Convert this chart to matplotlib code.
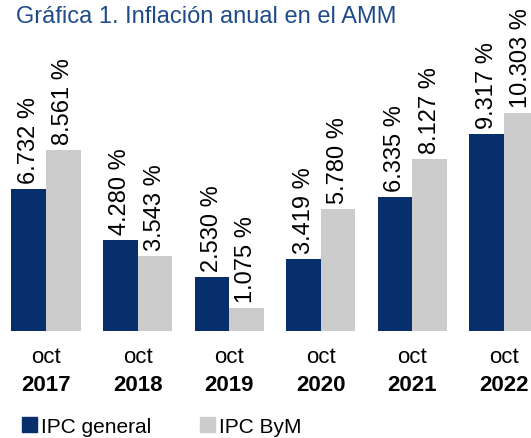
import numpy as np
import matplotlib.pyplot as plt
from matplotlib.patches import Patch

plt.rcParams['font.family'] = ['Liberation Sans', 'DejaVu Sans']

years = ['2017', '2018', '2019', '2020', '2021', '2022']
ipc_general = [6.732, 4.280, 2.530, 3.419, 6.335, 9.317]
ipc_bym = [8.561, 3.543, 1.075, 5.780, 8.127, 10.303]

navy = '#062f6b'
grey = '#cccccc'
title_blue = '#1f4b8a'

W, H = 531, 439
fig = plt.figure(figsize=(W / 100, H / 100), dpi=100)

# axes: baseline at 332 px from top, reaching the top edge
ax = fig.add_axes([0, 107 / H, 1, 332 / H])
x = np.arange(len(years))
bw = 0.377
ax.bar(x - bw / 2, ipc_general, width=bw, color=navy)
ax.bar(x + bw / 2, ipc_bym, width=bw, color=grey)

ax.set_xlim(-46 / 91.6, (W - 46) / 91.6)
ax.set_ylim(0, 332 / 21.15)
ax.axis('off')

for i in range(len(years)):
    for dx, v in ((-bw / 2, ipc_general[i]), (bw / 2, ipc_bym[i])):
        ax.annotate('{:.3f} %'.format(v), (x[i] + dx, v), xytext=(0, 6),
                    textcoords='offset pixels', rotation=90, ha='center',
                    va='bottom', fontsize=17, color='black',
                    annotation_clip=False)
    ax.annotate('oct', (x[i], 0), xytext=(0, -26), textcoords='offset pixels',
                ha='center', va='center', fontsize=16, annotation_clip=False)
    ax.annotate(years[i], (x[i], 0), xytext=(0, -54), textcoords='offset pixels',
                ha='center', va='center', fontsize=16, fontweight='bold',
                annotation_clip=False)

fig.text(16 / W, 1 - 23 / H, 'Gráfica 1. Inflación anual en el AMM',
         fontsize=17, color=title_blue, ha='left', va='baseline')

handles = [Patch(color=navy, label='IPC general'), Patch(color=grey, label='IPC ByM')]
fig.legend(handles=handles, loc='center left', bbox_to_anchor=(22 / W, 1 - 427.5 / H),
           ncol=2, frameon=False, fontsize=15, handlelength=0.7, handleheight=0.7,
           handletextpad=0.2, columnspacing=2.35, borderpad=0, borderaxespad=0)

fig.savefig('out.png', dpi=100)
